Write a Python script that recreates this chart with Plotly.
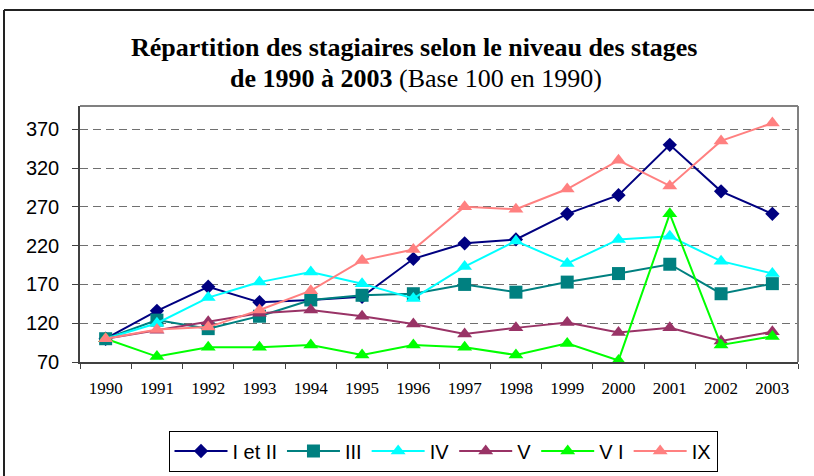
import plotly.graph_objects as go

years = [str(y) for y in range(1990, 2004)]

s_I_II = [100, 136, 167, 147, 150, 154, 203, 223, 228, 261, 285, 350, 290, 261]
s_III = [100, 124, 113, 129, 150, 156, 158, 170, 160, 173, 184, 196, 158, 171]
s_IV = [100, 120, 153, 173, 186, 171, 152, 193, 226, 197, 228, 232, 200, 184]
s_V = [100, 111, 122, 133, 137, 129, 119, 106, 114, 121, 108, 114, 97, 109]
s_VI = [100, 77, 89, 89, 92, 79, 92, 89, 79, 94, 72, 261, 92, 103]
s_IX = [100, 112, 115, 137, 162, 201, 215, 270, 267, 293, 330, 297, 355, 378]

series = [
    ("I et II", s_I_II, "#000080", "diamond", 11),
    ("III", s_III, "#008080", "square", 13),
    ("IV", s_IV, "#00FFFF", "triangle-up", 13),
    ("V", s_V, "#993366", "triangle-up", 13),
    ("V I", s_VI, "#00FF00", "triangle-up", 13),
    ("IX", s_IX, "#FF8080", "triangle-up", 13),
]

yticks = [70, 120, 170, 220, 270, 320, 370]

title_line1 = "<b>Répartition des stagiaires selon le niveau des stages</b>"
title_line2 = "<b>de 1990 à 2003</b> (Base 100 en 1990)"

fig = go.Figure()
for name, vals, color, sym, size in series:
    fig.add_trace(go.Scatter(
        x=years, y=vals, name=name, mode="lines+markers",
        line=dict(color=color, width=2),
        marker=dict(symbol=sym, size=size, color=color),
    ))

W, H = 814, 476
L, R, T, B = 80, 16, 106, 114
pw, ph = W - L - R, H - T - B

def px_x(p):
    return (p - L) / pw

def px_y(p):
    return (H - B - p) / ph

title_font = dict(family="Liberation Serif", size=26, color="black")

fig.update_layout(
    width=W, height=H,
    margin=dict(l=L, r=R, t=T, b=B, autoexpand=False),
    paper_bgcolor="white", plot_bgcolor="white",
    showlegend=True,
    legend=dict(
        orientation="h", x=px_x(443), xanchor="center",
        y=px_y(451), yanchor="middle",
        bordercolor="black", borderwidth=1, bgcolor="white",
        font=dict(family="Liberation Sans", size=20, color="black"),
        itemwidth=53, tracegroupgap=0,
    ),
    xaxis=dict(
        type="category", categoryorder="array", categoryarray=years,
        tickson="boundaries", ticks="outside", ticklen=5, tickcolor="#404040",
        showline=True, linecolor="#404040", linewidth=1.5,
        showgrid=False, zeroline=False,
        tickfont=dict(family="Liberation Serif", size=17, color="black"),
        range=[-0.5, 13.5], ticklabelstandoff=10,
    ),
    yaxis=dict(
        range=[70, 400], tickvals=yticks, ticktext=[str(v) for v in yticks],
        ticks="outside", ticklen=6, tickcolor="#404040",
        showline=True, linecolor="#404040", linewidth=1.5,
        showgrid=True, gridcolor="#707070", gridwidth=1, griddash="8px,5px",
        zeroline=False,
        tickfont=dict(family="Liberation Sans", size=20, color="black"),
        ticklabelstandoff=9,
    ),
    annotations=[
        dict(text=title_line1, xref="paper", yref="paper", x=px_x(414), y=px_y(47),
             xanchor="center", yanchor="middle", showarrow=False, font=title_font),
        dict(text=title_line2, xref="paper", yref="paper", x=px_x(416), y=px_y(78),
             xanchor="center", yanchor="middle", showarrow=False, font=title_font),
    ],
    shapes=[
        dict(type="line", xref="paper", yref="paper", x0=0, x1=1, y0=1, y1=1,
             line=dict(color="#808080", width=2)),
        dict(type="line", xref="paper", yref="paper", x0=1, x1=1, y0=0, y1=1,
             line=dict(color="#808080", width=2)),
        dict(type="line", xref="paper", yref="paper", x0=px_x(4), x1=px_x(830),
             y0=px_y(10), y1=px_y(10), line=dict(color="#222222", width=2)),
        dict(type="line", xref="paper", yref="paper", x0=px_x(4), x1=px_x(4),
             y0=px_y(10), y1=px_y(490), line=dict(color="#222222", width=2)),
    ],
)

fig.write_html(
    "out.html",
    config={"displayModeBar": False},
    post_script="document.body.style.margin='0';document.body.style.overflow='hidden';",
)
